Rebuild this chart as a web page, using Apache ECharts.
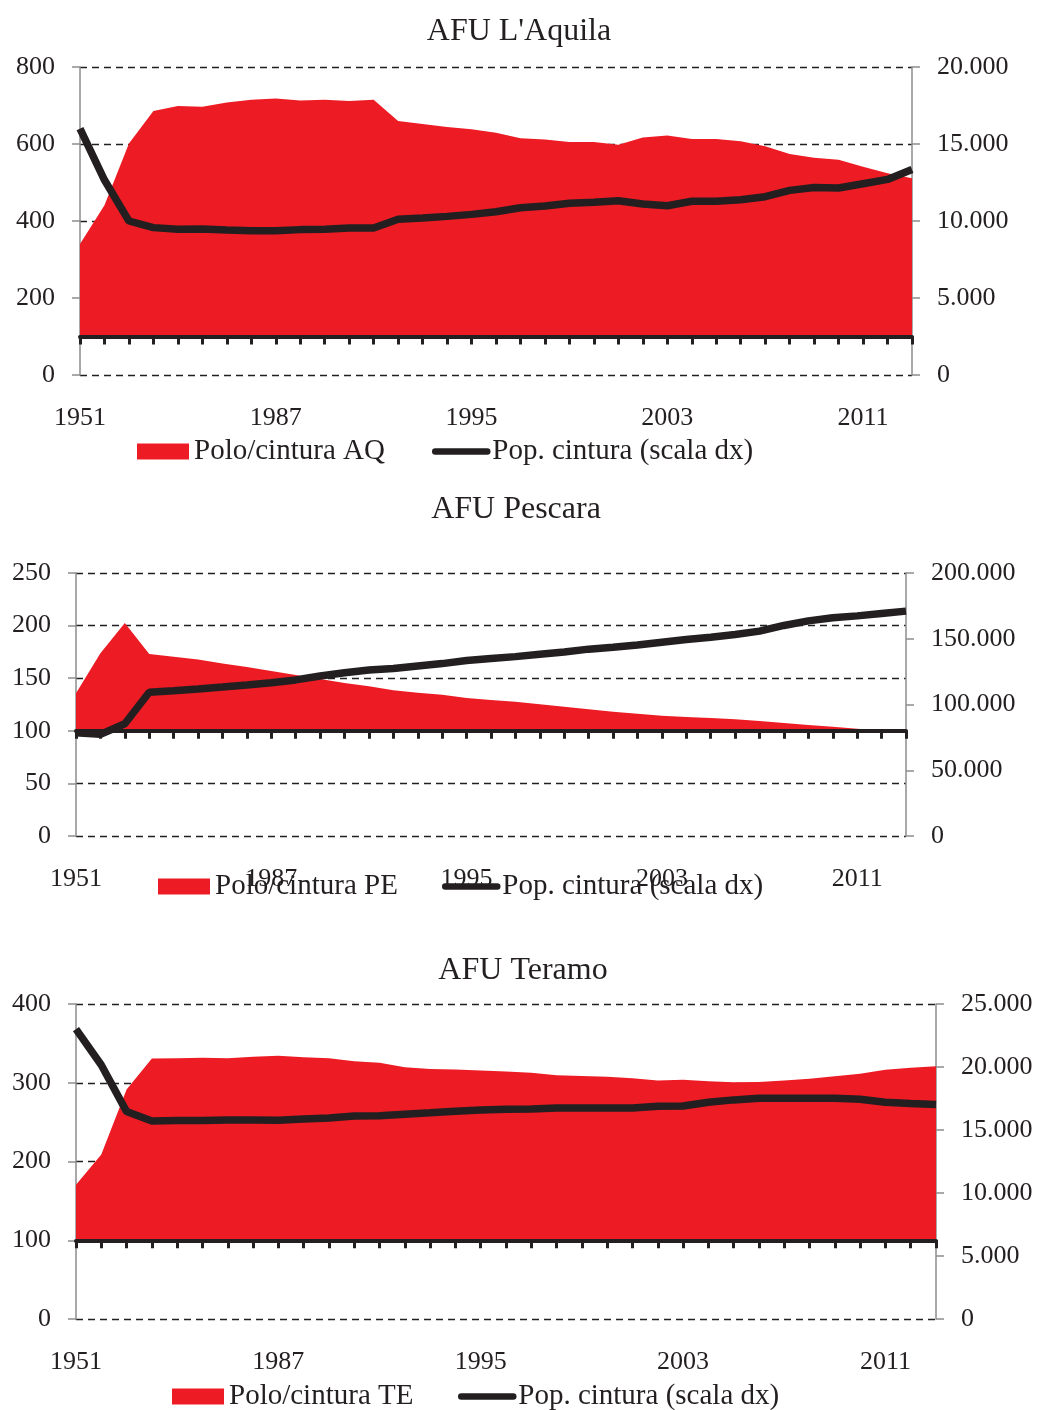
<!DOCTYPE html>
<html>
<head>
<meta charset="utf-8">
<script src="https://cdn.jsdelivr.net/npm/echarts@6/dist/echarts.min.js"></script>
<style>
html,body{margin:0;padding:0;background:#ffffff;}
#c{width:1039px;height:1410px;}
</style>
</head>
<body>
<div id="c"></div>
<script>
// ---- categories (x axis) ----
const years = ['1951','1961','1971','1981','1983','1984','1985','1986',
  '1987','1988','1989','1990','1991','1992','1993','1994','1995','1996','1997','1998','1999','2000',
  '2001','2002','2003','2004','2005','2006','2007','2008','2009','2010','2011','2012','2013'];

// ---- AFU L'Aquila ----
const aqPolo = [340,441,601,686,699,697,708,715,718,713,715,712,715,660,652,644,638,629,615,612,605,605,598,617,622,613,613,607,594,574,564,559,541,524,511];
const aqPop  = [16000,12660,10000,9570,9460,9480,9420,9370,9370,9440,9460,9550,9550,10110,10190,10300,10430,10600,10860,10970,11150,11210,11320,11100,10990,11280,11280,11380,11580,11990,12180,12140,12420,12700,13350];

// ---- AFU Pescara ----
const pePolo = [135.7,173.8,202.4,173.1,170.3,167.7,163.9,160.7,156.9,153.1,149.3,145.5,142.3,138.5,136.2,134.3,131.2,129.3,127.7,125.2,122.9,120.4,118.1,116.2,114.3,113.1,112.1,110.9,109.3,107.4,105.5,103.8,101.9,100.4,100];
const pePop  = [78500,77300,85400,109300,110500,111800,113300,114900,116600,118700,121700,124200,126300,127300,129300,131100,133400,134900,136400,138200,140000,142100,143600,145300,147400,149400,151200,153200,155800,160100,163600,165900,167400,169200,171000];

// ---- AFU Teramo ----
const tePolo = [170.6,208.8,291.4,330.8,331.2,331.6,331.2,332.9,334.2,332.4,331.2,327.3,325.3,319.7,317.6,316.8,315.5,314.2,312.6,309.6,308.7,307.5,305.8,302.8,303.7,301.9,300.7,301.1,302.8,305,308.3,311.3,316.4,318.9,321];
const tePop  = [23000,20160,16460,15720,15750,15750,15800,15800,15780,15880,15960,16120,16140,16250,16360,16490,16590,16650,16670,16750,16750,16750,16750,16890,16910,17200,17390,17520,17520,17520,17520,17440,17200,17100,17020];

// ---- axis scales (tick values) ----
const aqLeftTicks  = [0, 800, 200];     // min, max, step
const aqRightTicks = [0, 20000, 5000];
const peLeftTicks  = [0, 250, 50];
const peRightTicks = [0, 200000, 50000];
const teLeftTicks  = [0, 400, 100];
const teRightTicks = [0, 25000, 5000];
const baseValue = 100;

const titles = ["AFU L'Aquila", 'AFU Pescara', 'AFU Teramo'];
const areaNames = ['Polo/cintura AQ', 'Polo/cintura PE', 'Polo/cintura TE'];
const lineName = 'Pop. cintura (scala dx)';

const FONT = '"Liberation Serif", "Times New Roman", serif';
const INK = '#231f20';
const RED = '#ed1c24';
const GREY = '#8d8d8d';
const fmtDot = v => String(v).replace(/\B(?=(\d{3})+(?!\d))/g, '.');

const panels = [
  {title: titles[0], titleX: 519, titleY: 16, grid: {left: 80, top: 67, width: 832, height: 308},
   lt: aqLeftTicks, rt: aqRightTicks, area: aqPolo, line: aqPop, areaName: areaNames[0],
   legTop: 437, legA: 137, legB: 432},
  {title: titles[1], titleX: 516, titleY: 494, grid: {left: 76, top: 573, width: 830, height: 263},
   lt: peLeftTicks, rt: peRightTicks, area: pePolo, line: pePop, areaName: areaNames[1],
   legTop: 872, legA: 158, legB: 442},
  {title: titles[2], titleX: 523, titleY: 955, grid: {left: 76, top: 1004, width: 860, height: 315},
   lt: teLeftTicks, rt: teRightTicks, area: tePolo, line: tePop, areaName: areaNames[2],
   legTop: 1382, legA: 172, legB: 458}
];

const option = {animation: false, backgroundColor: '#ffffff',
  title: [], grid: [], xAxis: [], yAxis: [], series: [], legend: []};

const txt = {fontFamily: FONT, color: INK};

panels.forEach((p, i) => {
  option.title.push({text: p.title, left: p.titleX, top: p.titleY, textAlign: 'center', padding: 0,
    textStyle: {fontSize: 32, fontWeight: 'normal', fontFamily: FONT, color: INK}});
  option.grid.push(Object.assign({containLabel: false, outerBoundsMode: 'none'}, p.grid));
  // label axis at value 0
  option.xAxis.push({gridIndex: i, type: 'category', data: years, boundaryGap: false, position: 'bottom',
    axisLine: {show: false}, axisTick: {show: false}, splitLine: {show: false},
    axisLabel: Object.assign({interval: 7, margin: 30, fontSize: 26}, txt)});
  // baseline axis drawn at value 100
  const off = -p.grid.height * (baseValue - p.lt[0]) / (p.lt[1] - p.lt[0]);
  option.xAxis.push({gridIndex: i, type: 'category', data: years, boundaryGap: false, position: 'bottom',
    offset: off, z: 3,
    axisLine: {show: true, onZero: false, lineStyle: {color: INK, width: 4}},
    axisTick: {show: true, interval: 0, length: 8, lineStyle: {color: INK, width: 3}},
    axisLabel: {show: false}, splitLine: {show: false}});
  option.yAxis.push({gridIndex: i, type: 'value', position: 'left', min: p.lt[0], max: p.lt[1], interval: p.lt[2],
    axisLine: {show: true, onZero: false, lineStyle: {color: GREY, width: 1.5}},
    axisTick: {show: true, length: 8, lineStyle: {color: GREY, width: 1.5}},
    axisLabel: Object.assign({margin: 25, fontSize: 26}, txt),
    splitLine: {show: true, lineStyle: {color: INK, width: 1.3, type: [7, 5]}}});
  option.yAxis.push({gridIndex: i, type: 'value', position: 'right', min: p.rt[0], max: p.rt[1], interval: p.rt[2],
    axisLine: {show: true, onZero: false, lineStyle: {color: GREY, width: 1.5}},
    axisTick: {show: true, length: 8, lineStyle: {color: GREY, width: 1.5}},
    axisLabel: Object.assign({margin: 25, fontSize: 26, formatter: fmtDot}, txt),
    splitLine: {show: false}});
  option.series.push({type: 'line', name: p.areaName, xAxisIndex: 2 * i, yAxisIndex: 2 * i,
    data: p.area, symbol: 'none', color: RED, z: 2,
    lineStyle: {width: 0}, areaStyle: {color: RED, opacity: 1, origin: baseValue}});
  option.series.push({type: 'line', name: lineName, xAxisIndex: 2 * i, yAxisIndex: 2 * i + 1,
    data: p.line, symbol: 'none', color: INK, z: 4,
    lineStyle: {width: 7.5, color: INK}});
  option.legend.push({left: p.legA, top: p.legTop, padding: 0, itemWidth: 52, itemHeight: 16, itemGap: 0,
    selectedMode: false, textStyle: Object.assign({fontSize: 29}, txt),
    data: [{name: p.areaName, icon: 'rect', itemStyle: {color: RED, borderWidth: 0}}]});
  option.legend.push({left: p.legB, top: p.legTop, padding: 0, itemWidth: 52, itemHeight: 16, itemGap: 0,
    selectedMode: false, textStyle: Object.assign({fontSize: 29}, txt),
    lineStyle: {width: 6.5, cap: 'round', color: INK},
    itemStyle: {opacity: 0},
    data: [{name: lineName, itemStyle: {opacity: 0}}]});
});

const chart = echarts.init(document.getElementById('c'), null, {renderer: 'canvas'});
chart.setOption(option);
</script>
</body>
</html>
